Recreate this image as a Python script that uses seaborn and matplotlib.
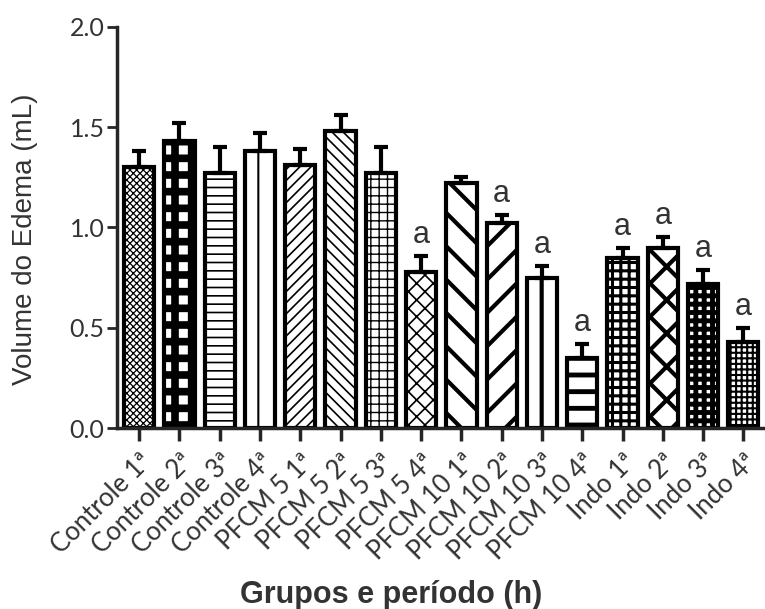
import numpy as np
import pandas as pd
import seaborn as sns
import matplotlib
matplotlib.use("Agg")
import matplotlib.pyplot as plt

groups = ["Controle 1ª", "Controle 2ª", "Controle 3ª", "Controle 4ª",
          "PFCM 5 1ª", "PFCM 5 2ª", "PFCM 5 3ª", "PFCM 5 4ª",
          "PFCM 10 1ª", "PFCM 10 2ª", "PFCM 10 3ª", "PFCM 10 4ª",
          "Indo 1ª", "Indo 2ª", "Indo 3ª", "Indo 4ª"]
means = [1.30, 1.43, 1.27, 1.38, 1.31, 1.48, 1.27, 0.78,
         1.22, 1.02, 0.75, 0.35, 0.85, 0.90, 0.72, 0.43]
errs = [0.08, 0.09, 0.13, 0.09, 0.08, 0.08, 0.13, 0.08,
        0.03, 0.04, 0.06, 0.07, 0.05, 0.05, 0.07, 0.07]
signif = ["", "", "", "", "", "", "", "a",
          "", "a", "a", "a", "a", "a", "a", "a"]

# hatch pattern and hatch line width per bar
hatches = ["xxxxx", "+", "--", "|", "///", "\\\\\\", "++", "xx",
           "\\", "/", "|", "-", "++", "x", "++", "+++"]
hatch_lw = [0.9, 5.5, 1.2, 1.5, 1.2, 1.2, 1.0, 1.2,
            3.0, 3.0, 3.0, 3.5, 2.2, 3.0, 3.5, 1.5]

df = pd.DataFrame({"grupo": groups, "volume": means})

sns.set_style("ticks")
plt.rcParams["font.family"] = ["Liberation Sans", "DejaVu Sans"]
tick_font = ["Lato", "DejaVu Sans"]

fig = plt.figure(figsize=(7.65, 6.09), dpi=100)
ax = fig.add_axes([0.153, 0.297, 0.845, 0.659])

sns.barplot(data=df, x="grupo", y="volume", order=groups, color="white",
            edgecolor="black", linewidth=3, width=0.75, ax=ax)

for i, p in enumerate(ax.patches):
    p.set_facecolor("white")
    p.set_hatch(hatches[i])
    if hasattr(p, "set_hatch_linewidth"):
        p.set_hatch_linewidth(hatch_lw[i])

x = np.arange(len(groups))
ax.errorbar(x, means, yerr=[np.zeros(len(errs)), errs], fmt="none",
            ecolor="black", elinewidth=3, capsize=5, capthick=3, zorder=1)

for i, s in enumerate(signif):
    if s:
        ax.text(x[i], means[i] + errs[i] + 0.03, s, ha="center", va="bottom",
                fontsize=22, color="#333333")

ax.set_ylim(0, 2.0)
ax.set_xlim(-0.55, 15.5)
ax.set_yticks([0.0, 0.5, 1.0, 1.5, 2.0])
ax.set_yticklabels(["0.0", "0.5", "1.0", "1.5", "2.0"], fontsize=18,
                   color="#333333", family=tick_font)
ax.set_xticks(x)
ax.set_xticklabels(groups, rotation=45, ha="right", rotation_mode="anchor",
                   fontsize=18.5, color="#333333", family=tick_font)
ax.tick_params(axis="y", length=7, width=2, pad=2)
ax.tick_params(axis="x", length=9, width=2.5, pad=6)

ax.set_ylabel("Volume do Edema (mL)", fontsize=20, color="#333333",
              va="center")
ax.yaxis.set_label_coords(-0.142, 0.47)
ax.set_xlabel("Grupos e período (h)", fontsize=22, fontweight="bold",
              color="#333333", va="baseline")
ax.xaxis.set_label_coords(0.424, -0.436)

sns.despine(ax=ax)
for side in ["left", "bottom"]:
    ax.spines[side].set_linewidth(2.5)

fig.savefig("out.png", dpi=100)
